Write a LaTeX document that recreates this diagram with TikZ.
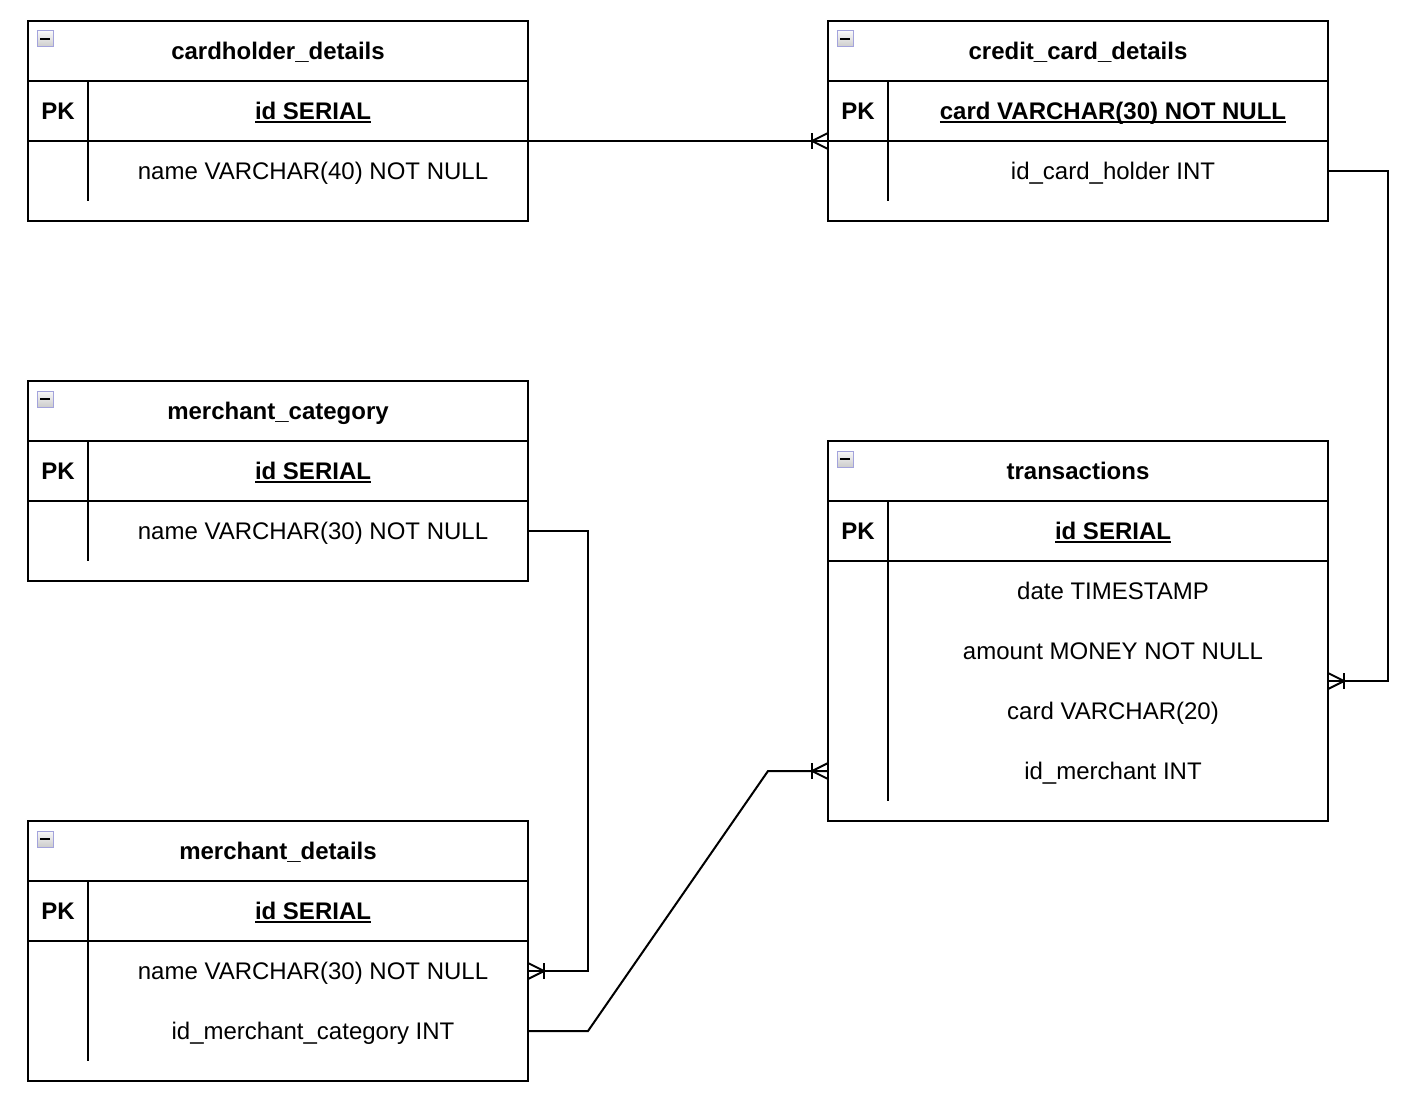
\documentclass[tikz,border=0pt]{standalone}
\usepackage{fontspec}
\setmainfont{Liberation Sans}
\usetikzlibrary{calc}
\newcommand\pkul[1]{\setbox0\hbox{#1}\rlap{\rule[-3.5pt]{\wd0}{2pt}}\box0}
\newcommand\ertbl[6]{%
 \node[tblbox, minimum height=#4, anchor=north west] (#1) at (#2,#3) {};
 \draw[tline] ($(#1.north west)+(0,60)$) -- ($(#1.north east)+(0,60)$);
 \draw[tline] ($(#1.north west)+(0,120)$) -- ($(#1.north east)+(0,120)$);
 \draw[tline] ($(#1.north west)+(60,60)$) -- ($(#1.south west)+(60,-20)$);
 \node[ttl] (#1T) at ($(#1.north)+(0,30)$) {#5};
 \node[icon] (#1X) at ($(#1.north west)+(17,18)$) {};
 \draw[line width=2.2pt] ($(#1X.center)+(-5,0)$) -- ($(#1X.center)+(5,0)$);
 \node[pkcell] (#1PK) at ($(#1.north west)+(30,90)$) {PK};
 \node[field] (#1P) at ($(#1.north west)+(280,90)$) {\hspace*{10pt}\pkul{\bfseries #6}};
}
\begin{document}
\begin{tikzpicture}[x=1pt,y=-1pt,
  tblbox/.style={draw, line width=2pt, minimum width=500, inner sep=0, outer sep=0, fill=white},
  tline/.style={line width=2pt},
  ttl/.style={font=\bfseries\fontsize{24}{28}\selectfont, inner sep=0, text height=17, text depth=0},
  pkcell/.style={minimum width=60, minimum height=60, inner sep=0, outer sep=0, font=\bfseries\fontsize{24}{28}\selectfont, text height=17, text depth=0},
  field/.style={minimum width=440, minimum height=60, inner sep=0, outer sep=0, font=\fontsize{24}{28}\selectfont, text height=17, text depth=0},
  conn/.style={line width=2pt},
  icon/.style={draw=gray!55!blue!50, line width=1pt, top color=gray!5, bottom color=gray!40, minimum size=16, inner sep=0, outer sep=0},
  crow/.pic={\draw[conn] (0,-8) -- (16,0) -- (0,8); \draw[conn] (16,-8) -- (16,8);}
]
\useasboundingbox (0,0) rectangle (1416,1102);
\fill[white] (0,0) rectangle (1416,1102);

\ertbl{ch}{28}{21}{200}{cardholder\_details}{id SERIAL}
\node[field] (chN) at ($(ch.north west)+(280,150)$) {\hspace*{10pt}name VARCHAR(40) NOT NULL};

\ertbl{cc}{828}{21}{200}{credit\_card\_details}{card VARCHAR(30) NOT NULL}
\node[field] (ccI) at ($(cc.north west)+(280,150)$) {\hspace*{10pt}id\_card\_holder INT};

\ertbl{mc}{28}{381}{200}{merchant\_category}{id SERIAL}
\node[field] (mcN) at ($(mc.north west)+(280,150)$) {\hspace*{10pt}name VARCHAR(30) NOT NULL};

\ertbl{tr}{828}{441}{380}{transactions}{id SERIAL}
\node[field] (trD) at ($(tr.north west)+(280,150)$) {\hspace*{10pt}date TIMESTAMP};
\node[field] (trA) at ($(tr.north west)+(280,210)$) {\hspace*{10pt}amount MONEY NOT NULL};
\node[field] (trC) at ($(tr.north west)+(280,270)$) {\hspace*{10pt}card VARCHAR(20)};
\node[field] (trM) at ($(tr.north west)+(280,330)$) {\hspace*{10pt}id\_merchant INT};

\ertbl{md}{28}{821}{260}{merchant\_details}{id SERIAL}
\node[field] (mdN) at ($(md.north west)+(280,150)$) {\hspace*{10pt}name VARCHAR(30) NOT NULL};
\node[field] (mdI) at ($(md.north west)+(280,210)$) {\hspace*{10pt}id\_merchant\_category INT};

% connectors
\draw[conn] (chPK.south -| ch.east) -- (ccPK.south -| cc.west);
\path (ccPK.south -| cc.west) pic[rotate=180] {crow};

\draw[conn] (ccI -| cc.east) -- ++(60,0) |- (trA.south -| tr.east);
\path (trA.south -| tr.east) pic {crow};

\draw[conn] (mcN -| mc.east) -- ++(60,0) |- (mdN -| md.east);
\path (mdN -| md.east) pic {crow};

\draw[conn] (mdI -| md.east) -- ++(60,0) -- ($(trM -| tr.west)+(-60,0)$) -- (trM -| tr.west);
\path (trM -| tr.west) pic[rotate=180] {crow};
\end{tikzpicture}
\end{document}
